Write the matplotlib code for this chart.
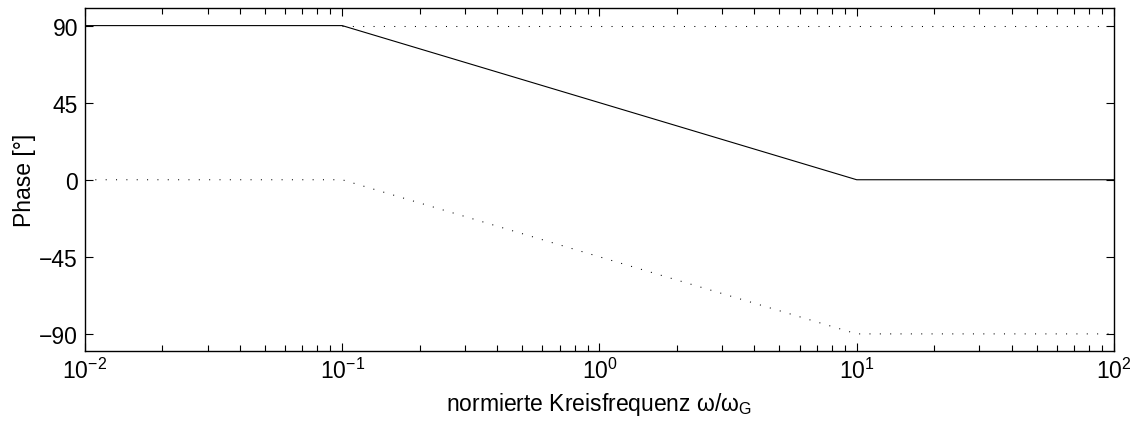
import matplotlib
matplotlib.use("Agg")
import matplotlib.pyplot as plt
from matplotlib.ticker import LogLocator, NullFormatter, FixedLocator

plt.rcParams['font.family'] = ['Liberation Sans', 'DejaVu Sans']
plt.rcParams['mathtext.fontset'] = 'custom'
plt.rcParams['mathtext.rm'] = 'Liberation Sans'
plt.rcParams['mathtext.it'] = 'Liberation Sans'
plt.rcParams['lines.scale_dashes'] = False

# data
freq_total = [0.01, 0.1, 10, 100]
phase_total = [90, 90, 0, 0]
freq_upper = [0.1, 100]
phase_upper = [90, 90]
freq_lower = [0.01, 0.1, 10, 100]
phase_lower = [0, 0, -90, -90]
yticks = [-90, -45, 0, 45, 90]

fig = plt.figure(figsize=(11.36, 4.27), dpi=100)
ax = fig.add_axes([0.0748, 0.1756, 0.9058, 0.8022])

ax.plot(freq_total, phase_total, color='black', lw=0.8)
dot = (0, (0.75, 6.7))
ax.plot(freq_upper, phase_upper, color='black', lw=0.75, linestyle=dot)
ax.plot(freq_lower, phase_lower, color='black', lw=0.75, linestyle=dot)

ax.set_xscale('log')
ax.set_xlim(1e-2, 1e2)
ax.set_ylim(-100, 100)
ax.yaxis.set_major_locator(FixedLocator(yticks))
ax.set_yticklabels([('\u2212' if v < 0 else '') + str(abs(v)) for v in yticks])
ax.xaxis.set_major_locator(LogLocator(base=10, numticks=10))
ax.xaxis.set_minor_locator(LogLocator(base=10, subs=range(2, 10), numticks=20))
ax.xaxis.set_minor_formatter(NullFormatter())

fs = 16.5
ax.tick_params(which='both', direction='in', top=True, right=True, labelsize=fs, width=0.8)
ax.tick_params(which='major', length=6)
ax.tick_params(which='minor', length=4)
ax.tick_params(axis='x', which='major', pad=5)
ax.tick_params(axis='y', which='major', pad=5)
for s in ax.spines.values():
    s.set_linewidth(1.0)

ax.set_ylabel('Phase [°]', fontsize=fs, labelpad=2.5)
ax.set_xlabel('normierte Kreisfrequenz ω/ω$_\\mathregular{G}$', fontsize=fs, labelpad=5)

fig.savefig('out.png', dpi=100)
